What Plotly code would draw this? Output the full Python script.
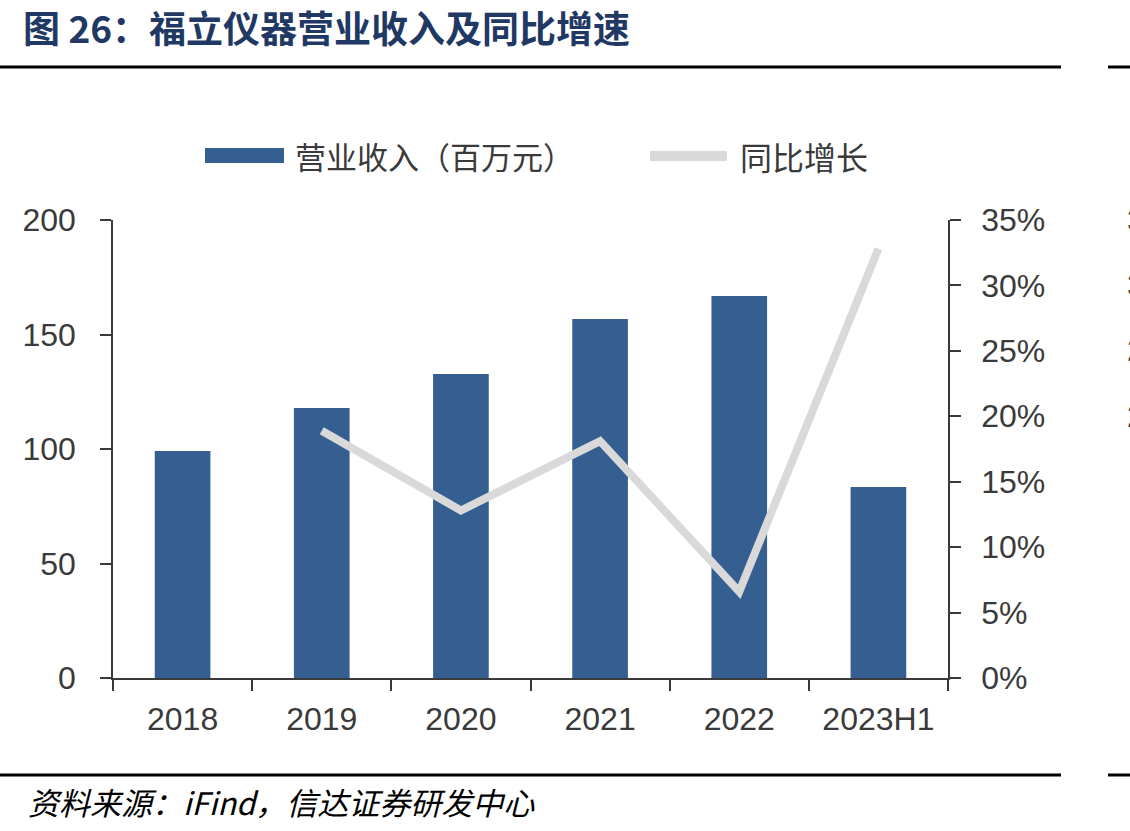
import plotly.graph_objects as go

# ---- data ----
categories = ["2018", "2019", "2020", "2021", "2022", "2023H1"]
revenue = [99.1, 117.9, 132.8, 156.8, 166.8, 83.4]          # 营业收入（百万元）
yoy_growth = [None, 0.189, 0.128, 0.181, 0.066, 0.328]      # 同比增长
left_ticks = [0, 50, 100, 150, 200]
right_ticks = [0, 0.05, 0.10, 0.15, 0.20, 0.25, 0.30, 0.35]

title_text = "图 26：福立仪器营业收入及同比增速"
source_text = "资料来源：<i>iFind</i>，信达证券研发中心"
legend_bar = "营业收入（百万元）"
legend_line = "同比增长"

W, H = 1130, 831
L, R, T, B = 113, 948, 220, 678   # plot area in pixels


def px(x):
    return (x - L) / (R - L)


def py(y):
    return (B - y) / (B - T)


BAR_COLOR = "#355f91"
LINE_COLOR = "#d9d9d9"
TEXT_COLOR = "#3a3a3a"
AXIS_FONT = dict(family="Liberation Sans, Arial, sans-serif", size=32, color=TEXT_COLOR)
CJK = "Noto Sans CJK SC"

fig = go.Figure()
fig.add_trace(go.Bar(
    x=categories, y=revenue, name=legend_bar,
    marker=dict(color=BAR_COLOR, line=dict(width=0)),
    width=0.4, yaxis="y",
))
fig.add_trace(go.Scatter(
    x=categories, y=yoy_growth, name=legend_line, mode="lines",
    line=dict(color=LINE_COLOR, width=8), yaxis="y2", connectgaps=False,
))

fig.update_layout(
    width=W, height=H,
    margin=dict(l=L, r=W - R, t=T, b=H - B, pad=0),
    paper_bgcolor="white", plot_bgcolor="white",
    showlegend=False,
    xaxis=dict(
        type="category", showline=True, linecolor=TEXT_COLOR, linewidth=1.5,
        ticks="outside", tickson="boundaries", ticklen=11, tickcolor=TEXT_COLOR,
        tickwidth=1.5, tickfont=AXIS_FONT, ticklabelstandoff=12,
        showgrid=False, zeroline=False, range=[-0.5, 5.5],
    ),
    yaxis=dict(
        range=[0, 200], tickvals=left_ticks, showline=True, linecolor=TEXT_COLOR,
        linewidth=1.5, ticks="outside", ticklen=11, tickcolor=TEXT_COLOR, tickwidth=1.5,
        tickfont=AXIS_FONT, showgrid=False, zeroline=False, ticklabelstandoff=18,
    ),
    yaxis2=dict(
        range=[0, 0.35], tickvals=right_ticks, tickformat=".0%", overlaying="y",
        side="right", showline=True, linecolor=TEXT_COLOR, linewidth=1.5,
        ticks="outside", ticklen=11, tickcolor=TEXT_COLOR, tickwidth=1.5,
        tickfont=AXIS_FONT, showgrid=False, zeroline=False, ticklabelstandoff=14,
    ),
)

shapes = [
    # rules under title and above source
    dict(type="line", xref="paper", yref="paper", x0=px(0), x1=px(1061), y0=py(67), y1=py(67),
         line=dict(color="black", width=3)),
    dict(type="line", xref="paper", yref="paper", x0=px(1108), x1=px(1130), y0=py(67), y1=py(67),
         line=dict(color="black", width=3)),
    dict(type="line", xref="paper", yref="paper", x0=px(0), x1=px(1061), y0=py(775), y1=py(775),
         line=dict(color="black", width=3)),
    dict(type="line", xref="paper", yref="paper", x0=px(1108), x1=px(1130), y0=py(775), y1=py(775),
         line=dict(color="black", width=3)),
    # legend keys
    dict(type="rect", xref="paper", yref="paper", x0=px(205), x1=px(284), y0=py(163), y1=py(148),
         fillcolor=BAR_COLOR, line=dict(width=0)),
    dict(type="line", xref="paper", yref="paper", x0=px(650), x1=px(727), y0=py(156), y1=py(156),
         line=dict(color=LINE_COLOR, width=10)),
]
fig.update_layout(shapes=shapes)

annotations = [
    dict(text=f"<b>{title_text}</b>", xref="paper", yref="paper", x=px(21), y=py(27),
         xanchor="left", yanchor="middle", showarrow=False,
         font=dict(family=CJK, size=37, color="#1f3864")),
    dict(text=legend_bar, xref="paper", yref="paper", x=px(293), y=py(156),
         xanchor="left", yanchor="middle", showarrow=False,
         font=dict(family=CJK, size=31, color=TEXT_COLOR)),
    dict(text=legend_line, xref="paper", yref="paper", x=px(738), y=py(156),
         xanchor="left", yanchor="middle", showarrow=False,
         font=dict(family=CJK, size=32, color=TEXT_COLOR)),
    dict(text=f"<i>{source_text}</i>", xref="paper", yref="paper", x=px(26), y=py(801),
         xanchor="left", yanchor="middle", showarrow=False,
         font=dict(family=CJK, size=31, color="black")),
]
# tick labels of the neighbouring chart, cut off at the right edge as in the reference
for lab, yy in zip(["35%", "30%", "25%", "20%"], [220, 285, 350, 416]):
    annotations.append(dict(text=lab, xref="paper", yref="paper", x=px(1125), y=py(yy),
                            xanchor="left", yanchor="middle", showarrow=False, font=AXIS_FONT))
fig.update_layout(annotations=annotations)

fig.write_html("out.html")
